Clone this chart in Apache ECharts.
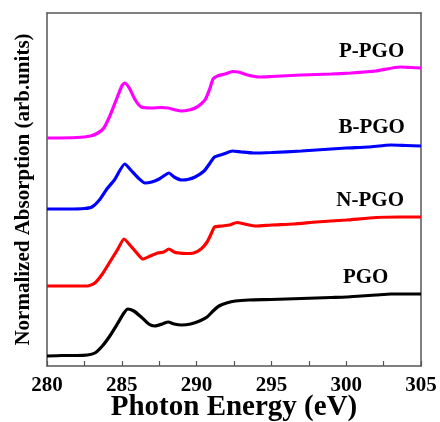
<!DOCTYPE html>
<html>
<head>
<meta charset="utf-8">
<script src="https://cdn.jsdelivr.net/npm/echarts@6/dist/echarts.min.js"></script>
<style>
html,body{margin:0;padding:0;background:#fff;}
#chart{width:440px;height:422px;}
</style>
</head>
<body>
<div id="chart"></div>
<script>
// ---- data (x: photon energy in eV, y: offset absorption, arbitrary units) ----
var xTicks = [280, 285, 290, 295, 300, 305];

var pgoX = [280, 281, 282, 282.7, 283.2, 283.7, 284.2, 284.7, 285.1, 285.4, 285.8, 286.3, 286.8, 287.2, 287.7, 288.1, 288.5, 289.0, 289.6, 290.2, 290.7, 291.1, 291.5, 292.0, 292.6, 293.5, 295, 297, 299, 300, 301, 302, 303, 304, 305];
var pgoY = [10, 10.5, 10.5, 11, 13, 20, 30, 42, 52, 57, 55, 49, 42, 40, 42, 44, 42, 41, 42, 45, 49, 55, 60, 63, 65, 66, 66.5, 67.5, 68.5, 69, 70, 71, 72, 72, 72];

var npgoX = [280, 281.5, 282.7, 283.2, 283.7, 284.2, 284.7, 285.15, 285.6, 286.0, 286.4, 286.9, 287.4, 287.8, 288.15, 288.5, 288.8, 289.3, 289.8, 290.3, 290.7, 291.0, 291.2, 291.7, 292.2, 292.7, 293.2, 294, 295, 296.5, 298, 300, 302, 303.5, 305];
var npgoY = [80, 80, 80, 83, 92, 104, 116, 127, 120, 113, 107, 110, 113, 114, 117, 114, 113, 112.5, 113, 117, 124, 133, 139, 140, 141, 143.5, 142, 140, 141, 142, 144, 146, 148.5, 149, 149];

var bpgoX = [280, 281.5, 282.5, 283.0, 283.5, 284.0, 284.5, 285.2, 285.6, 286.1, 286.55, 287.0, 287.5, 287.9, 288.15, 288.5, 289.0, 289.4, 289.9, 290.5, 290.9, 291.2, 291.8, 292.4, 293, 293.8, 295, 297, 299, 300, 301.5, 303, 304, 305];
var bpgoY = [157, 157, 157.5, 159, 166, 177, 186, 202, 196, 188, 183, 184, 187, 191, 193, 189, 186, 186.5, 189, 195, 203, 209, 212, 215, 214, 213, 213.5, 215, 217, 218, 219, 221, 220.5, 220];

var ppgoX = [280, 282, 282.9, 283.4, 283.8, 284.2, 284.6, 285.0, 285.2, 285.5, 285.9, 286.3, 287, 287.6, 288.1, 288.6, 289.0, 289.5, 289.9, 290.3, 290.6, 290.9, 291.1, 291.4, 291.9, 292.4, 292.8, 293.4, 294.2, 295, 297, 299, 300.3, 302, 303.6, 304.3, 305];
var ppgoY = [228, 228.5, 230, 233, 238, 250, 265, 280, 283, 278, 266, 259, 258, 258.5, 258, 256, 255, 256, 258, 262, 267, 278, 287, 290, 292, 294.5, 294, 291, 289, 289.5, 291, 292, 293, 295, 299, 298.5, 298];

var seriesNames = ['PGO', 'N-PGO', 'B-PGO', 'P-PGO'];
var seriesColors = ['#000000', '#ff0000', '#0000ff', '#ff00ff'];
var labelX = [301.3, 301.6, 301.7, 301.7];
var labelY = [88, 165, 238, 314];

function zip(xs, ys) { return xs.map(function (x, i) { return [x, ys[i]]; }); }
var seriesData = [zip(pgoX, pgoY), zip(npgoX, npgoY), zip(bpgoX, bpgoY), zip(ppgoX, ppgoY)];

var FONT = 'Liberation Serif, Times New Roman, serif';
var axisColor = '#555555';

var chart = echarts.init(document.getElementById('chart'), null, {renderer: 'canvas'});
var option = {
  animation: false,
  backgroundColor: '#ffffff',
  grid: {left: 47, right: 19, top: 13, bottom: 56, containLabel: false, outerBoundsMode: 'none'},
  xAxis: [{
    type: 'value', min: xTicks[0], max: xTicks[xTicks.length - 1], interval: 5,
    axisLine: {lineStyle: {color: axisColor, width: 1.5}},
    axisTick: {inside: true, length: 5, lineStyle: {color: axisColor, width: 1.2}},
    minorTick: {show: true, splitNumber: 2, length: 5, lineStyle: {color: axisColor, width: 1.2}},
    splitLine: {show: false},
    axisLabel: {fontFamily: FONT, fontWeight: 'bold', fontSize: 21, color: '#000', margin: 9},
    name: 'Photon Energy (eV)', nameLocation: 'middle', nameGap: 27, nameMoveOverlap: false,
    nameTextStyle: {fontFamily: FONT, fontWeight: 'bold', fontSize: 29, color: '#000'}
  }, {
    type: 'value', position: 'top', min: xTicks[0], max: xTicks[xTicks.length - 1],
    axisLine: {show: true, onZero: false, lineStyle: {color: axisColor, width: 1.5}},
    axisTick: {show: false}, axisLabel: {show: false}, splitLine: {show: false}
  }],
  yAxis: [{
    type: 'value', min: 0, max: 353,
    axisLine: {show: true, lineStyle: {color: axisColor, width: 1.5}},
    axisTick: {show: false}, axisLabel: {show: false}, splitLine: {show: false},
    name: 'Normalized Absorption (arb.units)', nameLocation: 'middle', nameGap: 13, nameMoveOverlap: false,
    nameTextStyle: {fontFamily: FONT, fontWeight: 'bold', fontSize: 21, color: '#000'}
  }, {
    type: 'value', position: 'right', min: 0, max: 353,
    axisLine: {show: true, onZero: false, lineStyle: {color: axisColor, width: 1.5}},
    axisTick: {show: false}, axisLabel: {show: false}, splitLine: {show: false}
  }],
  series: seriesNames.map(function (name, i) {
    return {
      name: name, type: 'line', data: seriesData[i], showSymbol: false, symbol: 'none',
      smooth: 0.2, lineStyle: {color: seriesColors[i], width: 3.2}, itemStyle: {color: seriesColors[i]}
    };
  })
};
chart.setOption(option);

var graphics = seriesNames.map(function (name, i) {
  var p = chart.convertToPixel({xAxisIndex: 0, yAxisIndex: 0}, [labelX[i], labelY[i]]);
  return {
    type: 'text', x: p[0], y: p[1],
    style: {text: name, fontFamily: FONT, fontWeight: 'bold', fontSize: 21, fill: '#000', align: 'center', verticalAlign: 'middle'}
  };
});
chart.setOption({graphic: graphics});
</script>
</body>
</html>
